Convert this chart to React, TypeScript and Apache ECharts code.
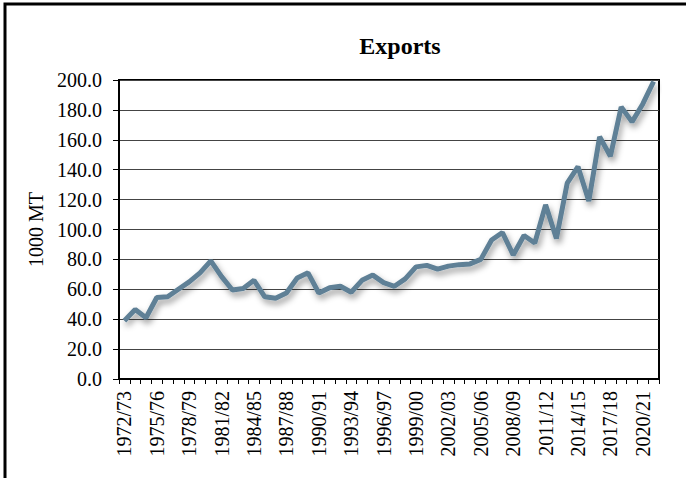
import React, { useEffect, useRef } from "react";
import * as echarts from "echarts";

const categories = [
  "1972/73", "1973/74", "1974/75", "1975/76", "1976/77", "1977/78", "1978/79", "1979/80",
  "1980/81", "1981/82", "1982/83", "1983/84", "1984/85", "1985/86", "1986/87", "1987/88",
  "1988/89", "1989/90", "1990/91", "1991/92", "1992/93", "1993/94", "1994/95", "1995/96",
  "1996/97", "1997/98", "1998/99", "1999/00", "2000/01", "2001/02", "2002/03", "2003/04",
  "2004/05", "2005/06", "2006/07", "2007/08", "2008/09", "2009/10", "2010/11", "2011/12",
  "2012/13", "2013/14", "2014/15", "2015/16", "2016/17", "2017/18", "2018/19", "2019/20",
  "2020/21", "2021/22",
];

const exportsValues = [
  39, 46.5, 41, 54.5, 55, 60, 65, 71,
  79, 68.5, 59.5, 60.5, 66, 55, 54, 57.5,
  67.5, 71, 57.5, 61, 62, 58, 66, 69.5,
  64.5, 62, 67, 75, 76, 73.5, 75.5, 76.5,
  77, 80, 93, 98, 83, 96, 91, 116.5,
  94, 131, 142, 119, 162, 149, 182, 172,
  184, 199,
];

const titleText = "Exports";
const yAxisName = "1000 MT";

const FONT = "'Liberation Serif', 'Times New Roman', serif";

export default function App() {
  const ref = useRef<HTMLDivElement>(null);

  useEffect(() => {
    document.body.style.margin = "0";
    if (!ref.current) return;
    const chart = echarts.init(ref.current, null, { renderer: "svg" });
    chart.setOption({
      animation: false,
      backgroundColor: "#ffffff",
      title: {
        text: titleText,
        left: 395,
        top: 29,
        textAlign: "center",
        textStyle: { fontFamily: FONT, fontWeight: "bold", fontSize: 24, color: "#000" },
      },
      graphic: [
        {
          type: "rect",
          shape: { x: 5, y: 4, width: 720, height: 520 },
          style: { fill: "none", stroke: "#000", lineWidth: 3 },
          silent: true,
        },
      ],
      grid: {
        left: 119,
        top: 80,
        width: 540,
        height: 299,
        show: true,
        borderColor: "#000",
        borderWidth: 2,
        backgroundColor: "transparent",
      },
      xAxis: {
        type: "category",
        data: categories,
        boundaryGap: true,
        axisLine: { show: true, lineStyle: { color: "#000", width: 2 } },
        axisTick: { show: true, interval: 0, length: 5, lineStyle: { color: "#000", width: 1 } },
        axisLabel: {
          interval: 2,
          rotate: 90,
          margin: 12,
          fontFamily: FONT,
          fontSize: 20,
          color: "#000",
        },
        splitLine: { show: false },
      },
      yAxis: {
        type: "value",
        min: 0,
        max: 200,
        interval: 20,
        name: yAxisName,
        nameLocation: "middle",
        nameGap: 72,
        nameRotate: 90,
        nameTextStyle: { fontFamily: FONT, fontSize: 20, color: "#000" },
        axisLine: { show: true, lineStyle: { color: "#000", width: 2 } },
        axisTick: { show: true, length: 6, lineStyle: { color: "#000", width: 1 } },
        axisLabel: {
          margin: 17,
          fontFamily: FONT,
          fontSize: 20,
          color: "#000",
          formatter: (v: number) => v.toFixed(1),
        },
        splitLine: { show: true, lineStyle: { color: "#444", width: 1 } },
      },
      series: [
        {
          type: "line",
          data: exportsValues,
          symbol: "none",
          lineStyle: {
            color: "#5f8096",
            width: 5,
            shadowColor: "rgba(0,0,0,0.4)",
            shadowBlur: 6,
            shadowOffsetX: 2,
            shadowOffsetY: 4,
          },
          itemStyle: { color: "#5f8096" },
        },
      ],
    });
    return () => chart.dispose();
  }, []);

  return <div ref={ref} style={{ width: 686, height: 478 }} />;
}
